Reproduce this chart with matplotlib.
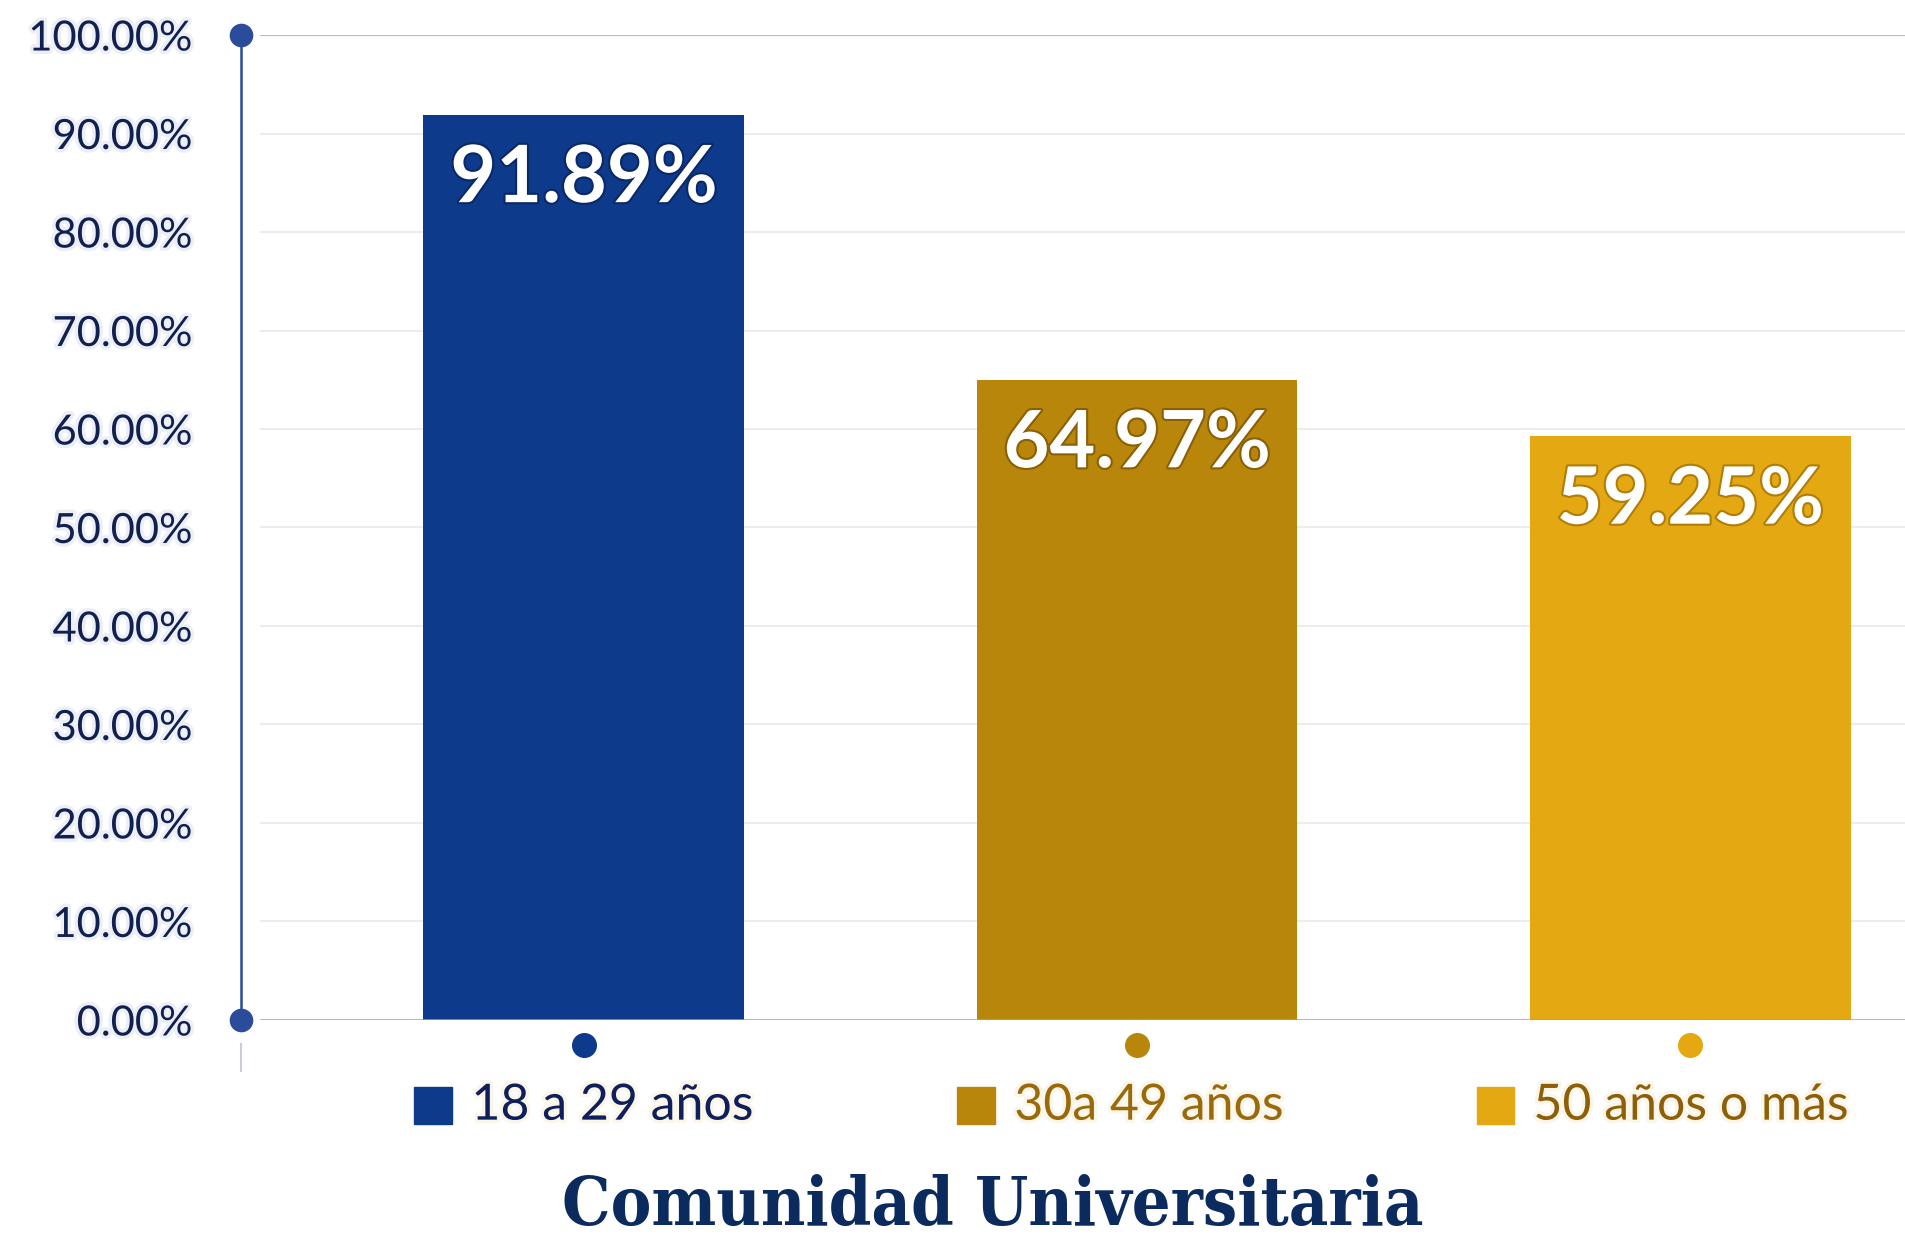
import matplotlib.pyplot as plt
import matplotlib.patheffects as pe
from matplotlib import font_manager
from matplotlib.patches import Rectangle
from matplotlib.offsetbox import AnnotationBbox, DrawingArea, HPacker, TextArea

# datos
grupos = ['18 a 29 años', '30a 49 años', '50 años o más']
porcentajes = [91.89, 64.97, 59.25]
marcas_y = [0, 10, 20, 30, 40, 50, 60, 70, 80, 90, 100]

colores = ['#0d3a8a', '#b8860a', '#e3a812']
colores_txt = ['#0f1f5c', '#9a690a', '#8f5f08']
bordes_txt = ['#0a2766', '#8a5f05', '#b07d06']
azul = '#2b4c9b'
titulo_color = '#0b2a5e'

plt.rcParams['font.family'] = ['Lato', 'DejaVu Sans']

# fuente del titulo: serif condensada si esta instalada
condensadas = [f for f in font_manager.fontManager.ttflist
               if f.name == 'DejaVu Serif' and 'ondensed' in str(f.stretch) + f.fname
               and f.weight in ('bold', 700)]
if condensadas:
    fuente_titulo = dict(fontproperties=font_manager.FontProperties(
        fname=condensadas[0].fname, size=49))
else:
    fuente_titulo = dict(family='DejaVu Serif', fontweight='bold', fontsize=42)

fig = plt.figure(figsize=(19.06, 12.46), dpi=100)
ax = fig.add_axes([0.1264, 0.1814, 0.8736, 0.7905])

x = list(range(len(grupos)))
ax.set_xlim(-0.62, 2.39)
ax.set_ylim(0, 100)

# lineas de guia
for v in marcas_y[1:-1]:
    ax.axhline(v, xmin=0.012, color='#ececec', lw=1.5, zorder=0)
ax.axhline(100, xmin=0.012, color='#b7bfcf', lw=1.6, zorder=0)
ax.axhline(0, xmin=0.012, color='#9ba3b1', lw=1.8, zorder=3)

bars = ax.bar(x, porcentajes, width=0.58, color=colores, zorder=2)

for xi, v, c in zip(x, porcentajes, bordes_txt):
    ax.annotate(f'{v:.2f}%', (xi, v), xytext=(0, -47), textcoords='offset points',
                ha='center', va='center', fontsize=57, fontweight='bold',
                color='white', zorder=4,
                path_effects=[pe.withStroke(linewidth=3, foreground=c)])

# eje vertical con puntos en los extremos
for s in ['top', 'right', 'bottom']:
    ax.spines[s].set_visible(False)
ax.spines['left'].set_color(azul)
ax.spines['left'].set_linewidth(1.8)
ax.plot([-0.62, -0.62], [0, 100], 'o', color=azul, ms=16, clip_on=False, zorder=5)
ax.plot([-0.62, -0.62], [-2.4, -5.2], color='#c9ced8', lw=1.5, clip_on=False)

ax.set_yticks(marcas_y)
ax.set_yticklabels([f'{v:.2f}%' for v in marcas_y])
ax.tick_params(axis='y', length=0, pad=35, labelsize=30, labelcolor='#12204f')
for t in ax.get_yticklabels():
    t.set_path_effects([pe.withStroke(linewidth=5, foreground='#eceff5')])
ax.set_xticks([])

# puntos de categoria
for xi, c in zip(x, colores):
    ax.plot(xi, -2.5, 'o', color=c, ms=17, clip_on=False)

# etiquetas de categoria
desplaz = [0.0, -0.03, -0.05]
for xi, d, g, c, ct in zip(x, desplaz, grupos, colores, colores_txt):
    cuadro = DrawingArea(27, 27)
    cuadro.add_artist(Rectangle((0, 0), 27, 27, color=c))
    texto = TextArea(g, textprops=dict(fontsize=36, color=ct,
                     path_effects=[pe.withStroke(linewidth=5, foreground='#fbf6ea')]))
    caja = HPacker(children=[cuadro, texto], align='center', pad=0, sep=14)
    ab = AnnotationBbox(caja, (xi + d, -8.7), frameon=False, box_alignment=(0.5, 0.5),
                        annotation_clip=False)
    ax.add_artist(ab)

fig.text(0.521, 0.032, 'Comunidad Universitaria', ha='center', va='center',
         color=titulo_color, **fuente_titulo)

fig.savefig('out.png', dpi=100, facecolor='white')
